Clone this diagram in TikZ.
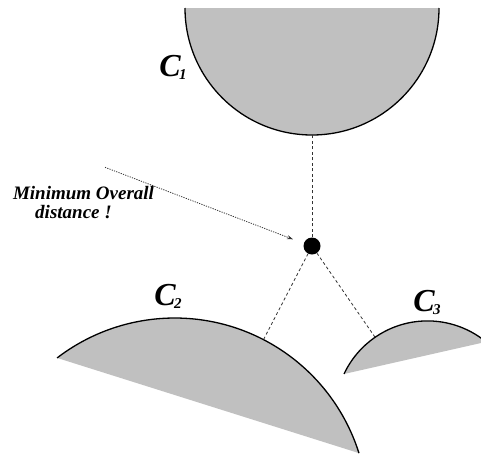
\documentclass[tikz,border=0pt]{standalone}
\usepackage{fontspec}
\setmainfont{Liberation Serif}
\usetikzlibrary{arrows.meta}
\definecolor{shade}{RGB}{192,192,192}
\tikzset{
  region/.style={fill=shade,draw=none},
  rim/.style={line width=1.3pt,black},
  gap/.style={dash pattern=on 3pt off 2.5pt,line width=0.8pt,black!80},
  pointer/.style={dash pattern=on 1.2pt off 1.2pt,line width=0.8pt,black!80,-{Stealth[length=6pt,width=4pt]}},
  lbl/.style={font=\fontsize{32}{32}\selectfont\bfseries\itshape,inner sep=0pt},
  note/.style={font=\fontsize{19}{19}\selectfont\bfseries\itshape,inner sep=0pt,anchor=base}
}
\newcommand{\sublbl}[1]{C\kern-1.5pt\raisebox{-3pt}{\fontsize{15}{15}\selectfont #1}}
\begin{document}
\begin{tikzpicture}[x=1pt,y=-1pt]
\useasboundingbox (0,0) rectangle (481,453);
\clip (0,0) rectangle (481,453);
% C1
\coordinate (c1) at (312,8);
\fill[region] (c1) ++(0:127) arc[start angle=0,end angle=180,radius=127] -- cycle;
\draw[rim] (c1) ++(0:127) arc[start angle=0,end angle=180,radius=127];
\coordinate (p1) at (312,135);
% C2
\coordinate (c2) at (174.7,511.2);
\fill[region] (c2) ++(232.5:193.2) arc[start angle=232.5,end angle=342.5,radius=193.2] -- cycle;
\draw[rim] (c2) ++(232.5:193.2) arc[start angle=232.5,end angle=342.5,radius=193.2];
\coordinate (p2) at (263.5,339.6);
% C3
\coordinate (c3) at (427.5,413.1);
\fill[region] (c3) ++(205.1:92.2) arc[start angle=205.1,end angle=309.4,radius=92.2] -- cycle;
\draw[rim] (c3) ++(205.1:92.2) arc[start angle=205.1,end angle=309.4,radius=92.2];
\coordinate (p3) at (375.1,337.3);
% point
\node[circle,fill=black,minimum size=17pt,inner sep=0pt] (pt) at (312,246) {};
\draw[gap] (pt) -- (p1);
\draw[gap] (pt) -- (p2);
\draw[gap] (pt) -- (p3);
% labels
\node[lbl] (l1) at (173,67) {\sublbl{1}};
\node[lbl] (l2) at (168,296) {\sublbl{2}};
\node[lbl] (l3) at (427,302) {\sublbl{3}};
\node[note] (n1) at (83.5,199.3) {Minimum Overall};
\node[note] (n2) at (73.5,218) {distance !};
\coordinate (s) at (105,167.3);
\coordinate (e) at (293,239.3);
\draw[pointer] (s) -- (e);
\end{tikzpicture}
\end{document}
